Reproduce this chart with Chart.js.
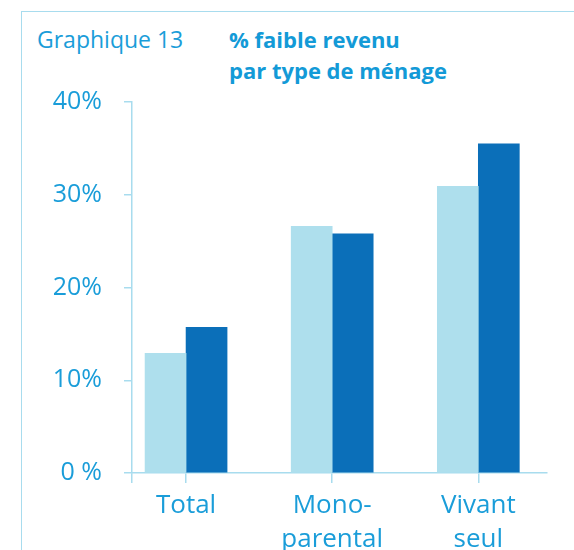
<!DOCTYPE html>
<html lang="fr">
<head>
<meta charset="utf-8">
<script src="https://cdn.jsdelivr.net/npm/chart.js@4/dist/chart.umd.min.js"></script>
<style>
    html, body { margin: 0; padding: 0; background: #fff; }
    body { width: 574px; height: 550px; position: relative; overflow: hidden; font-family: 'Open Sans', sans-serif; }
    .cadre { position: absolute; left: 21px; top: 11px; right: -10px; bottom: -10px; border-top: 1.5px solid #a8dcee; border-left: 1.5px solid #a8dcee; }
    .numero { position: absolute; left: 37px; top: 28px; font-size: 23px; line-height: 23px; color: #1a9dd9; }
    .titre { position: absolute; left: 229px; top: 24px; font-size: 22px; line-height: 31px; font-weight: 700; color: #139ad7; }
    #wrap { position: absolute; left: 0; top: 0; width: 574px; height: 550px; }
</style>
</head>
<body>
<div class="cadre"></div>
<div class="numero">Graphique 13</div>
<div class="titre">% faible revenu<br>par type de ménage</div>
<div id="wrap"><canvas id="menageChart"></canvas></div>
<script>
// Données
const categories = ['Total', ['Mono-', 'parental'], ['Vivant', 'seul']];
const serieClaire = [12.9, 26.6, 30.9];
const serieFoncee = [15.7, 25.8, 35.5];
const yTickLabels = ['0 %', '10%', '20%', '30%', '40%'];

const bleuTexte = '#1a9dd9';
const bleuAxe = '#a8dcee';

// Barres groupées sur un axe x linéaire (pour placer les groupes)
const xMin = -0.37;
const xMax = 2.47;

function toPoints(values) {
    return values.map((v, i) => ({ x: i, y: v }));
}

document.addEventListener('DOMContentLoaded', function() {
    const ctx = document.getElementById('menageChart').getContext('2d');
    new Chart(ctx, {
        type: 'bar',
        data: {
            datasets: [{
                label: 'Série 1',
                data: toPoints(serieClaire),
                backgroundColor: '#aedfed',
                barThickness: 41
            }, {
                label: 'Série 2',
                data: toPoints(serieFoncee),
                backgroundColor: '#0b6fb9',
                barThickness: 41
            }]
        },
        options: {
            responsive: true,
            maintainAspectRatio: false,
            animation: false,
            layout: { padding: { left: 0, right: 27, top: 102, bottom: 0 } },
            plugins: {
                legend: { display: false },
                tooltip: { enabled: false }
            },
            scales: {
                x: {
                    type: 'linear',
                    min: xMin,
                    max: xMax,
                    offset: false,
                    afterBuildTicks: function(scale) {
                        scale.ticks = [xMin].concat(categories.map((c, i) => i)).map(v => ({ value: v }));
                    },
                    afterFit: function(scale) { scale.height = 77; },
                    grid: {
                        offset: false,
                        drawOnChartArea: false,
                        drawTicks: true,
                        tickLength: 10,
                        color: bleuAxe,
                        lineWidth: 1.5
                    },
                    border: { color: bleuAxe, width: 1.5 },
                    ticks: {
                        autoSkip: false,
                        maxRotation: 0,
                        padding: 6,
                        color: bleuTexte,
                        font: { family: 'Open Sans', size: 26, lineHeight: 1.3 },
                        callback: function(value) {
                            return Number.isInteger(value) && categories[value] ? categories[value] : '';
                        }
                    }
                },
                y: {
                    min: 0,
                    max: 40,
                    afterFit: function(scale) { scale.width = 132; },
                    grid: {
                        drawOnChartArea: false,
                        drawTicks: true,
                        tickLength: 8,
                        color: bleuAxe,
                        lineWidth: 1.5
                    },
                    border: { color: bleuAxe, width: 1.5 },
                    ticks: {
                        stepSize: 10,
                        padding: 22,
                        color: bleuTexte,
                        font: { family: 'Open Sans', size: 25 },
                        callback: function(value, index) {
                            return yTickLabels[index];
                        }
                    }
                }
            }
        }
    });
});
</script>
</body>
</html>
